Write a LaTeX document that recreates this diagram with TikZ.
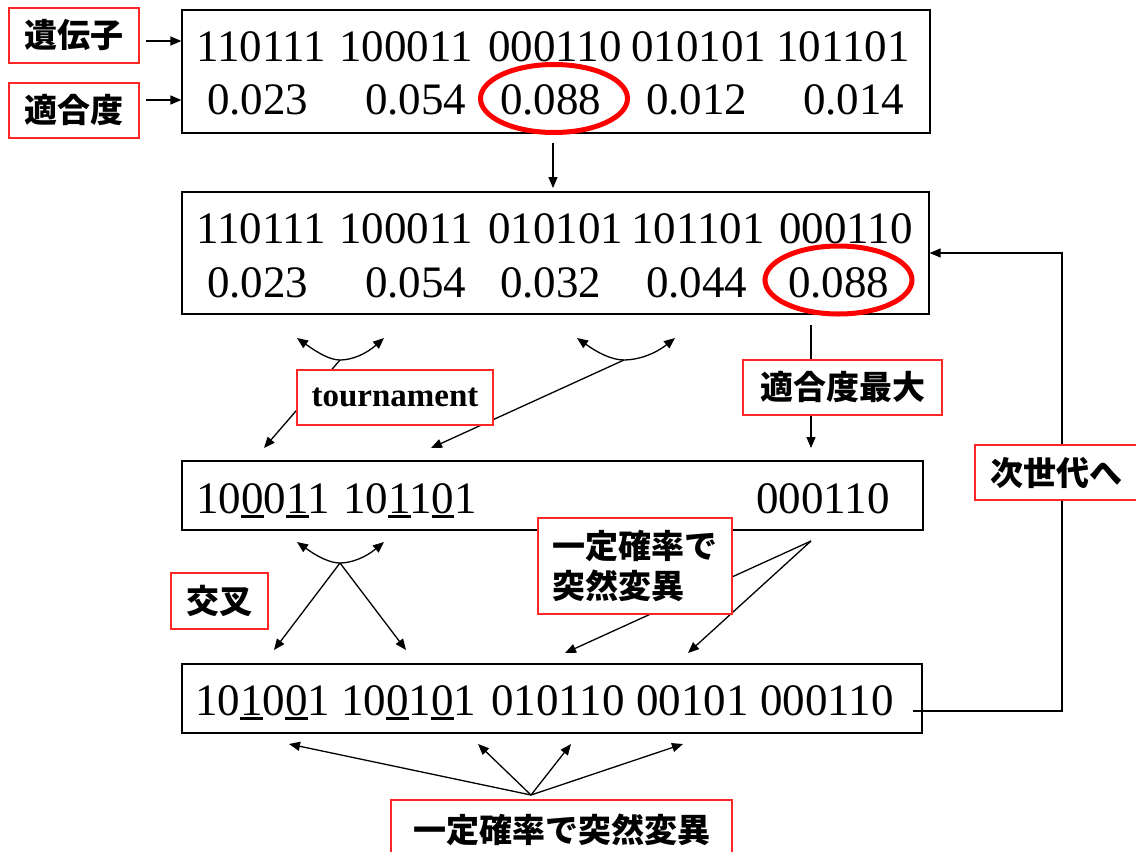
\documentclass[tikz,border=0pt]{standalone}
\usepackage{fontspec}
\setmainfont{Liberation Serif}
\newfontfamily\cjk{Noto Sans CJK JP}
\usetikzlibrary{arrows.meta,calc,backgrounds,shapes.geometric}
\newcommand\myul[1]{\rlap{\rule[-5pt]{0.5em}{3.5pt}}#1}
\begin{document}
\begin{tikzpicture}[x=1pt,y=-1pt,
  frame/.style={draw=black,line width=1.3pt,inner sep=0pt},
  lab/.style={draw=red!85,line width=1.5pt,fill=white,inner sep=0pt,font=\cjk\bfseries\fontsize{33}{40}\selectfont},
  num/.style={anchor=base west,inner sep=0pt,font=\fontsize{45}{50}\selectfont},
  arr/.style={line width=1.3pt,-{Triangle[length=11pt,width=9pt]}},
  darr/.style={line width=1.3pt,{Triangle[length=11pt,width=9pt]}-{Triangle[length=11pt,width=9pt]}},
  ln/.style={line width=1.3pt},
  ring/.style={ellipse,draw=red,line width=5pt,inner sep=0pt,minimum width=147pt,minimum height=68pt}]
\useasboundingbox (0,0) rectangle (1136,852);

% main boxes
\node[frame,minimum width=748pt,minimum height=123pt] (box1) at (556,71.5) {};
\node[frame,minimum width=747pt,minimum height=122pt] (box2) at (555.5,253) {};
\node[frame,minimum width=741pt,minimum height=69pt] (box3) at (552.5,495.5) {};
\node[frame,minimum width=740pt,minimum height=69pt] (box4) at (552,698.5) {};

% box1 text
\node[num] (b1g1) at (196,61) {110111};
\node[num] (b1g2) at (339,61) {100011};
\node[num] (b1g3) at (488,61) {000110};
\node[num] (b1g4) at (631,61) {010101};
\node[num] (b1g5) at (776,61) {101101};
\node[num] (b1a) at (207,114) {0.023};
\node[num] (b1b) at (365,114) {0.054};
\node[num] (b1c) at (500,114) {0.088};
\node[num] (b1d) at (646,114) {0.012};
\node[num] (b1e) at (803,114) {0.014};
% box2 text
\node[num] (b2g1) at (196,243) {110111};
\node[num] (b2g2) at (339,243) {100011};
\node[num] (b2g3) at (488,243) {010101};
\node[num] (b2g4) at (631,243) {101101};
\node[num] (b2g5) at (779,243) {000110};
\node[num] (b2a) at (207,297) {0.023};
\node[num] (b2b) at (365,297) {0.054};
\node[num] (b2c) at (500,297) {0.032};
\node[num] (b2d) at (646,297) {0.044};
\node[num] (b2e) at (788,297) {0.088};
% box3 text
\node[num] (b3g1) at (196,513) {10\myul{0}0\myul{1}1};
\node[num] (b3g2) at (343,513) {10\myul{1}1\myul{0}1};
\node[num] (b3g3) at (756,513) {000110};
% box4 text
\node[num] (b4g1) at (195,715) {10\myul{1}0\myul{0}1};
\node[num] (b4g2) at (341,715) {10\myul{0}1\myul{0}1};
\node[num] (b4g3) at (491,715) {010110};
\node[num] (b4g4) at (636,715) {00101};
\node[num] (b4g5) at (760,715) {000110};

% red rings
\node[ring] (ring1) at (554,98.5) {};
\node[ring] (ring2) at (838.5,280) {};

% labels
\node[lab,minimum width=130pt,minimum height=55pt] (gene) at (74,35.5) {遺伝子};
\node[lab,minimum width=130pt,minimum height=55pt] (fit) at (74,110.5) {適合度};
\node[lab,minimum width=196pt,minimum height=55pt,font=\bfseries\fontsize{33}{40}\selectfont] (tour) at (395,397.5) {tournament};
\node[lab,minimum width=199pt,minimum height=55pt] (maxfit) at (842.5,387.5) {適合度最大};
\node[lab,minimum width=162pt,minimum height=55pt] (next) at (1056,472.5) {次世代へ};
\node[lab,minimum width=194pt,minimum height=96pt,align=left] (mut1) at (635,566) {一定確率で\\突然変異};
\node[lab,minimum width=97pt,minimum height=56pt] (cross) at (219.5,601) {交叉};
\node[lab,minimum width=341pt,minimum height=60pt] (mut2) at (561.5,830) {一定確率で突然変異};

% coordinates
\coordinate (g1) at (146,41);
\coordinate (f1) at (146,100);
\coordinate (d1s) at (553,143);
\coordinate (d1e) at (553,188);
\coordinate (m1) at (811,325);
\coordinate (m2) at (811,448);
\coordinate (retend) at (913,711);
\coordinate (t1l) at (297,338); \coordinate (t1r) at (384,338);
\coordinate (t1d) at (340,360); \coordinate (t1e) at (264,448);
\coordinate (t2l) at (577,338); \coordinate (t2r) at (675,338);
\coordinate (t2d) at (624,360); \coordinate (t2e) at (431,448);
\coordinate (c1l) at (297,542); \coordinate (c1r) at (384,542);
\coordinate (c1d) at (340,563);
\coordinate (c1a) at (274,650); \coordinate (c1b) at (406,650);
\coordinate (u1) at (811,541);
\coordinate (u1a) at (565,653); \coordinate (u1b) at (688,653);
\coordinate (u2) at (531,795);
\coordinate (u2a) at (289,744); \coordinate (u2b) at (478,744);
\coordinate (u2c) at (571,744); \coordinate (u2d) at (683,744);

\begin{scope}[on background layer]
\fill[white] (0,0) rectangle (1136,852);
\draw[arr] (g1) -- (g1 -| box1.west);
\draw[arr] (f1) -- (f1 -| box1.west);
\draw[arr] (d1s) -- (d1e);
\draw[ln] (m1) -- (m1 |- maxfit.north);
\draw[arr] (m1 |- maxfit.south) -- (m2);
\draw[arr] ($(next.north)+(6,0)$) |- (box2.east);
\draw[ln] ($(next.south)+(6,0)$) |- (retend);
% tournament
\draw[darr] (t1l) .. controls (318,353) and (330,360) .. (t1d) .. controls (352,360) and (366,354) .. (t1r);
\draw[arr] (t1d) -- (t1e);
\draw[darr] (t2l) .. controls (598,353) and (612,360) .. (t2d) .. controls (638,360) and (655,354) .. (t2r);
\draw[arr] (t2d) -- (t2e);
% crossover
\draw[darr] (c1l) .. controls (318,557) and (330,563) .. (c1d) .. controls (352,563) and (366,557) .. (c1r);
\draw[arr] (c1d) -- (c1a);
\draw[arr] (c1d) -- (c1b);
% mutation
\draw[arr] (u1) -- (u1a);
\draw[arr] (u1) -- (u1b);
\draw[arr] (u2) -- (u2a);
\draw[arr] (u2) -- (u2b);
\draw[arr] (u2) -- (u2c);
\draw[arr] (u2) -- (u2d);
\end{scope}
\end{tikzpicture}
\end{document}
